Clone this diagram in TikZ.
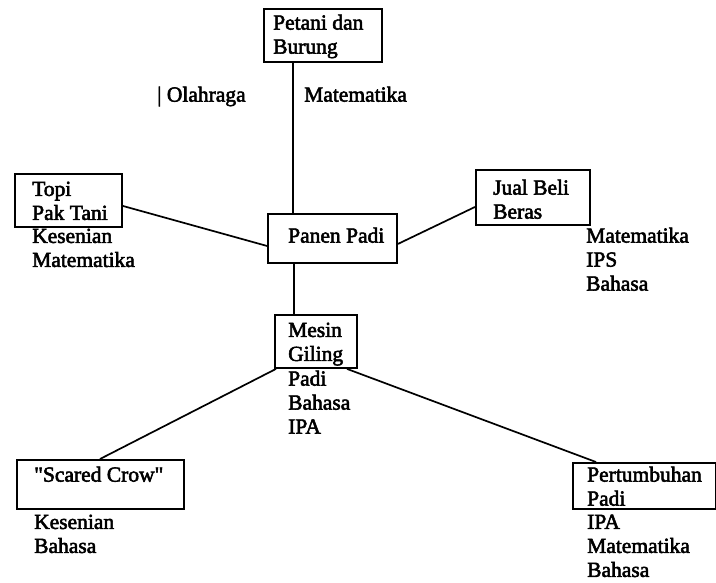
\documentclass[tikz,border=0pt]{standalone}
\usepackage{fontspec}
\setmainfont{Liberation Serif}
\newfontfamily\diafont{Liberation Serif}[FakeBold=2.5]
\begin{document}
\begin{tikzpicture}[x=1pt,y=-1pt,
  txt/.style={font=\diafont\fontsize{21.5}{24}\selectfont, anchor=north west, inner sep=0pt, align=left},
  box/.style={draw, line width=1.9pt, anchor=north west, inner sep=0pt},
  link/.style={line width=1.7pt}]
\useasboundingbox (0,0) rectangle (716,582);
% boxes
\node[box, minimum width=118pt, minimum height=53pt] (petani) at (263,8) {};
\node[box, minimum width=129pt, minimum height=49pt] (panen) at (267,213) {};
\node[box, minimum width=107pt, minimum height=53pt] (topi) at (14,173) {};
\node[box, minimum width=114pt, minimum height=55pt] (jual) at (475,169) {};
\node[box, minimum width=82pt, minimum height=53pt] (mesin) at (274,314) {};
\node[box, minimum width=167pt, minimum height=49pt] (scared) at (16,459) {};
\node[box, minimum width=143pt, minimum height=46pt] (pert) at (572,462) {};
% box texts
\node[txt] (petaniT) at (273,14.5) {Petani dan\\Burung};
\node[txt] (panenT) at (288,227.5) {Panen Padi};
\node[txt] (topiT) at (32,181.5) {Topi\\Pak Tani};
\node[txt] (jualT) at (493,179.5) {Jual Beli\\Beras};
\node[txt] (mesinT) at (288,322.5) {Mesin\\Giling};
\node[txt] (scaredT) at (34,466.5) {\symbol{"22}Scared Crow\symbol{"22}};
\node[txt] (pertT) at (587,466.5) {Pertumbuhan\\Padi};
% subject labels
\node[txt] (olah) at (157,86.5) {| Olahraga};
\node[txt] (petaniL) at (304,86.5) {Matematika};
\node[txt] (topiL) at (32,228.5) {Kesenian\\Matematika};
\node[txt] (jualL) at (586,227.5) {Matematika\\IPS\\Bahasa};
\node[txt] (mesinL) at (288,370.5) {Padi\\Bahasa\\IPA};
\node[txt] (scaredL) at (34,514.5) {Kesenian\\Bahasa};
\node[txt] (pertL) at (587,514.5) {IPA\\Matematika\\Bahasa};
% connectors
\draw[link] ([xshift=30pt]petani.south west) -- ([xshift=26pt]panen.north west);
\draw[link] ([yshift=-5.5pt]topi.east) -- ([yshift=-7.5pt]panen.west);
\draw[link] ([yshift=-5.5pt]panen.east) -- ([yshift=-9.5pt]jual.west);
\draw[link] ([xshift=27pt]panen.south west) -- ([xshift=20pt]mesin.north west);
\draw[link] ([xshift=2pt]mesin.south west) -- ([xshift=84pt]scared.north west);
\draw[link] ([xshift=73pt]mesin.south west) -- ([xshift=24pt]pert.north west);
\end{tikzpicture}
\end{document}
